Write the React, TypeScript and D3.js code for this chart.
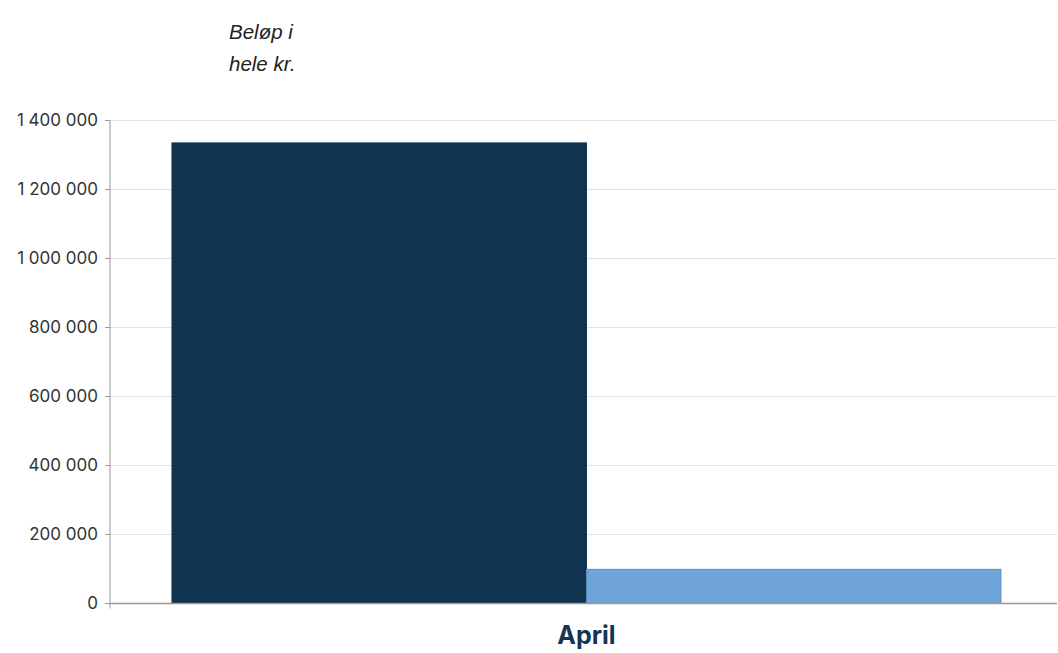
import React from "react";
import * as d3 from "d3";

const categories = ["April"];
const seriesNames = ["Serie 1", "Serie 2"];
const seriesValues = [[1335000], [99000]];
const yTicks = [0, 200000, 400000, 600000, 800000, 1000000, 1200000, 1400000];
const titleLines = ["Beløp i", "hele kr."];

const W = 1058;
const H = 653;
const colors = ["#10334f", "#6fa5d8"];
const strokes = ["#10334f", "#5b8cbf"];

export default function App() {
  const left = 110, right = 1057, top = 120.5, bottom = 603.5;
  const y = d3.scaleLinear().domain([0, 1400000]).range([bottom, top]);
  const x = d3.scaleBand<string>().domain(categories).range([left, right]).paddingInner(0).paddingOuter(0.0712).align(0.525);
  const xs = d3.scaleBand<string>().domain(seriesNames).range([0, x.bandwidth()]).padding(0);
  const fmt = (v: number) => d3.format(",")(v).replace(/,/g, " ");
  return (
    <svg width={W} height={H} style={{ position: "absolute", left: 0, top: 0 }}>
      <rect width={W} height={H} fill="#fff" />
      {titleLines.map((t, i) => (
        <text key={i} x={229} y={39 + i * 32} fontFamily="Liberation Sans, Arial, sans-serif" fontStyle="italic" fontSize={20.5} fill="#222">{t}</text>
      ))}
      {yTicks.map((t) => (
        <g key={t}>
          {t !== 0 && <line x1={left} x2={right} y1={y(t)} y2={y(t)} stroke="#e2e2e2" strokeWidth={1} />}
          <line x1={left - 5} x2={left} y1={y(t)} y2={y(t)} stroke="#999" strokeWidth={1} />
          <text x={left - 12} y={y(t)} dy="0.35em" textAnchor="end" fontFamily="Inter, sans-serif" fontSize={17} fill="#333">{fmt(t)}</text>
        </g>
      ))}
      {categories.map((c, ci) =>
        seriesNames.map((s, si) => {
          const v = seriesValues[si][ci];
          const bx = (x(c) ?? 0) + (xs(s) ?? 0);
          return (
            <rect key={c + s} x={bx} y={y(v)} width={xs.bandwidth()} height={y(0) - y(v)} fill={colors[si]} stroke={strokes[si]} strokeWidth={1} />
          );
        })
      )}
      <line x1={left} x2={left} y1={top} y2={bottom} stroke="#999" strokeWidth={1} />
      <line x1={left} x2={right} y1={bottom} y2={bottom} stroke="#999" strokeWidth={1.5} />
      <line x1={left} x2={left} y1={bottom} y2={bottom + 5} stroke="#999" strokeWidth={1} />
      {categories.map((c) => (
        <text key={c} x={(x(c) ?? 0) + x.bandwidth() / 2} y={644} textAnchor="middle" fontFamily="Inter, sans-serif" fontWeight="bold" fontSize={25} fill="#133553">{c}</text>
      ))}
    </svg>
  );
}
